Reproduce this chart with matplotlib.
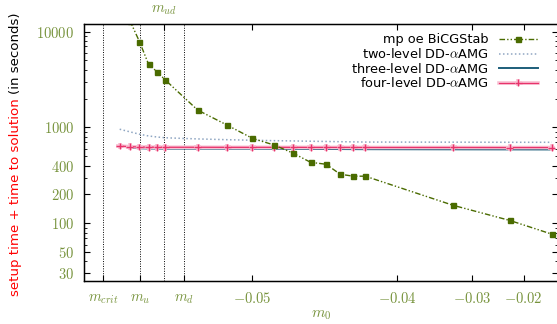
import numpy as np
import matplotlib
matplotlib.use("Agg")
import matplotlib.pyplot as plt
import matplotlib.patheffects as pe
from matplotlib.ticker import FixedLocator, NullFormatter

plt.rcParams['mathtext.fontset'] = 'cm'
plt.rcParams['font.family'] = 'DejaVu Sans'

# mass parameters (x axis)
m_crit, m_u, m_ud, m_d = -0.0542, -0.05348, -0.05294, -0.05241

# m0 values of the runs
m0_all = [-0.0539, -0.0537, -0.0535, -0.0533, -0.0531, -0.0529, -0.052, -0.051, -0.050,
          -0.049, -0.048, -0.047, -0.046, -0.045, -0.044, -0.043, -0.033, -0.023, -0.013]
m0_bicg = m0_all[1:]

# timings in seconds
t_bicg = [13000, 7860, 4570, 3800, 3130, 1520, 1055, 770, 655, 538, 433, 413, 325, 310,
          310, 154, 107, 77]
t_two = [958, 900, 850, 815, 795, 780, 759, 745, 735, 728, 723, 718, 714, 710, 707, 704,
         702, 700, 700]
t_three = [646, 615, 606, 603, 602, 601, 601, 600, 600, 599, 598, 597, 596, 595, 594, 593,
           591, 590, 589]
t_four = [640, 630, 625, 623, 622, 621, 621, 620, 620, 620, 620, 619, 619, 619, 619, 618,
          618, 617, 617]

ytick_vals = [30, 50, 100, 200, 400, 1000, 10000]
xtick_vals = [-0.05, -0.04, -0.03, -0.02]

olive = '#77933c'
c_bicg = '#4a6b00'
c_two = '#8fa6c2'
c_three = '#1d5e7a'
c_four = '#e8336b'

shift = 0.057


def fwd(x):
    x = np.asarray(x, dtype=float)
    return np.log(np.where(x + shift > 0, x + shift, np.nan))


def inv(y):
    return np.exp(y) - shift


fig = plt.figure(figsize=(5.57, 3.24), dpi=100)
ax = fig.add_axes([84 / 557, 1 - 281 / 324, 474 / 557, 257 / 324])
ax.set_xscale('function', functions=(fwd, inv))
ax.set_yscale('log')

# critical mass markers
for m in [m_crit, m_u, m_ud, m_d]:
    ax.axvline(m, color='black', lw=0.7, ls=(0, (1, 1.5)), zorder=1)

ax.plot(m0_bicg, t_bicg, color=c_bicg, lw=1, ls=(0, (4, 1.5, 1, 1.5, 1, 1.5)), marker='s',
        ms=3.6, mec=c_bicg, mfc=c_bicg, label='mp oe BiCGStab', zorder=4)
ax.plot(m0_all, t_two, color=c_two, lw=1.1, ls=(0, (1, 1.6)), label=r'two-level DD-$\alpha$AMG',
        zorder=3)
ax.plot(m0_all, t_three, color=c_three, lw=1.4, label=r'three-level DD-$\alpha$AMG', zorder=3)
ax.plot(m0_all, t_four, color=c_four, lw=0.9, marker='+', ms=5, mew=1,
        label=r'four-level DD-$\alpha$AMG', zorder=3,
        path_effects=[pe.Stroke(linewidth=2.6, foreground='#f9c0d3'), pe.Normal()])

ax.set_xlim(-0.05451, -0.01132)
ax.set_ylim(25, 12000)

# x ticks
ax.set_xticks([m_crit, m_u, m_d] + xtick_vals)
ax.set_xticklabels([r'$m_{crit}$', r'$m_u$', r'$m_d$'] + [r'$%.2f$' % v for v in xtick_vals])
ax.xaxis.set_minor_locator(FixedLocator([]))
ax.tick_params(axis='x', direction='in', length=4, width=0.8, pad=7, labelsize=10.5,
               labelcolor=olive)
ax.set_xlabel(r'$m_0$', fontsize=11, color=olive, labelpad=1)

# y ticks
ax.yaxis.set_major_locator(FixedLocator(ytick_vals))
ax.set_yticklabels([r'$%d$' % v for v in ytick_vals])
ax.yaxis.set_minor_formatter(NullFormatter())
ax.tick_params(axis='y', which='both', direction='in', left=True, right=True, pad=7,
               labelsize=10.5, labelcolor=olive)
ax.tick_params(axis='y', which='major', length=4, width=0.8)
ax.tick_params(axis='y', which='minor', length=2.5, width=0.6)

ax.spines['right'].set_visible(False)
for s in ['left', 'bottom', 'top']:
    ax.spines[s].set_linewidth(1)

# top axis with m_ud
top = ax.twiny()
top.set_xscale('function', functions=(fwd, inv))
top.set_xlim(ax.get_xlim())
top.set_xticks(xtick_vals + [m_ud])
top.set_xticklabels(['', '', '', '', r'$m_{ud}$'])
top.tick_params(axis='x', direction='in', length=4, width=0.8, pad=5, labelsize=10.5,
                labelcolor=olive)
top.spines['right'].set_visible(False)

leg = ax.legend(loc='upper right', bbox_to_anchor=(544 / 557, 1 - 27 / 324),
                bbox_transform=fig.transFigure, frameon=False, markerfirst=False,
                numpoints=1, fontsize=9.3, handlelength=3.0, labelspacing=0.05,
                handletextpad=0.8, borderpad=0)
leg.set_zorder(10)

# y label: red part + black part
t1 = fig.text(16 / 557, 1 - 296 / 324, 'setup time + time to solution', rotation=90,
              color='red', fontsize=9.6, ha='center', va='bottom')
fig.canvas.draw()
bb = t1.get_window_extent()
fig.text(16 / 557, (bb.y1 + 4) / 324, '(in seconds)', rotation=90, color='black',
         fontsize=9.6, ha='center', va='bottom')

fig.savefig('out.png', dpi=100)
